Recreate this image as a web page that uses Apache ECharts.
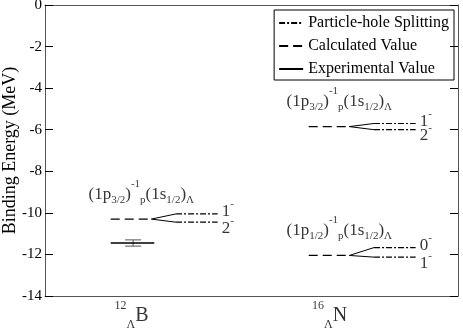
<!DOCTYPE html>
<html><head><meta charset="utf-8">
<script src="https://cdn.jsdelivr.net/npm/echarts@6/dist/echarts.min.js"></script>
<style>html,body{margin:0;padding:0;background:#fff}#c{width:463px;height:331px}</style>
</head><body><div id="c"></div>
<script>
// ---- data ----
const nucleusMass = ['12', '16'];
const nucleusSymbol = ['B', 'N'];
const nucleusPos = [1, 2];
const levelNucleus = [0, 1, 1];
const levelHole = ['3/2', '3/2', '1/2'];
const calcValues = [-10.3, -5.85, -12.05];
const splitUpper = [-10.05, -5.70, -11.67];
const splitLower = [-10.45, -6.00, -12.13];
const upperSpin = ['1', '1', '0'];
const lowerSpin = ['2', '2', '1'];
const expNucleus = [0];
const expValues = [-11.45];
const expErrors = [0.15];
const yTicks = { min: -14, max: 0, step: 2 };

// ---- layout (not data) ----
const CALC_L = -0.105, CALC_R = 0.10, SPLIT_L = 0.225, SPLIT_R = 0.435;
const FONT = 'Liberation Serif';

const calcData = [], convData = [], splitData = [], expData = [], errData = [];
const annData = [], spinUpData = [], spinLowData = [];
levelNucleus.forEach((n, i) => {
  const x = nucleusPos[n];
  calcData.push([x + CALC_L, calcValues[i]], [x + CALC_R, calcValues[i]], null);
  convData.push([x + CALC_R, calcValues[i]], [x + SPLIT_L, splitUpper[i]], null,
                [x + CALC_R, calcValues[i]], [x + SPLIT_L, splitLower[i]], null);
  splitData.push([x + SPLIT_L, splitUpper[i]], [x + SPLIT_R, splitUpper[i]], null,
                 [x + SPLIT_L, splitLower[i]], [x + SPLIT_R, splitLower[i]], null);
  annData.push({ value: [x, calcValues[i]], hole: levelHole[i] });
  spinUpData.push({ value: [x + SPLIT_R, splitUpper[i]], spin: upperSpin[i] });
  spinLowData.push({ value: [x + SPLIT_R, splitLower[i]], spin: lowerSpin[i] });
});
expNucleus.forEach((n, i) => {
  const x = nucleusPos[n];
  expData.push([x + CALC_L, expValues[i]], [x + 0.115, expValues[i]], null);
  errData.push([x + 0.008, expValues[i] - expErrors[i], expValues[i] + expErrors[i]]);
});
const nucData = nucleusPos.map((x, i) => ({ value: [x, yTicks.min], mass: nucleusMass[i], sym: nucleusSymbol[i] }));

const spinRich = {
  j: { fontFamily: FONT, fontSize: 17, lineHeight: 17, padding: [4, 0, 0, 0], color: '#000' },
  u: { fontFamily: FONT, fontSize: 11, lineHeight: 10, padding: [0, 0, 11, 0], color: '#000' }
};

const chart = echarts.init(document.getElementById('c'), null, { renderer: 'canvas' });
chart.setOption({
  animation: false,
  backgroundColor: '#fff',
  grid: { left: 45, right: 5, top: 5, bottom: 35, containLabel: false, outerBoundsMode: 'none' },
  legend: {
    right: 9, top: 10, orient: 'vertical',
    data: ['Particle-hole Splitting', 'Calculated Value', 'Experimental Value'],
    itemWidth: 24, itemHeight: 14, itemGap: 7,
    padding: [5, 5, 3, 4],
    borderColor: '#000', borderWidth: 1,
    itemStyle: { color: 'rgba(0,0,0,0)', borderColor: 'rgba(0,0,0,0)', borderWidth: 0, opacity: 0 },
    textStyle: { fontFamily: FONT, fontSize: 16, color: '#000' },
    selectedMode: false
  },
  xAxis: [
    { type: 'value', min: 0.563, max: 2.649, position: 'bottom',
      axisLine: { show: true, onZero: false, lineStyle: { color: '#555', width: 1 } },
      axisTick: { show: false }, axisLabel: { show: false }, splitLine: { show: false } },
    { type: 'value', min: 0.563, max: 2.649, position: 'top',
      axisLine: { show: true, onZero: false, lineStyle: { color: '#555', width: 1 } },
      axisTick: { show: false }, axisLabel: { show: false }, splitLine: { show: false } }
  ],
  yAxis: [
    { type: 'value', min: yTicks.min, max: yTicks.max, interval: yTicks.step, position: 'left',
      name: 'Binding Energy (MeV)', nameLocation: 'middle', nameGap: 26, nameMoveOverlap: false,
      nameTextStyle: { fontFamily: FONT, fontSize: 18, color: '#000' },
      axisLine: { show: true, onZero: false, lineStyle: { color: '#555', width: 1 } },
      axisTick: { show: true, inside: true, length: 8, lineStyle: { color: '#000' } },
      axisLabel: { fontFamily: FONT, fontSize: 15, color: '#000', margin: 3 },
      splitLine: { show: false } },
    { type: 'value', min: yTicks.min, max: yTicks.max, interval: yTicks.step, position: 'right',
      axisLine: { show: true, onZero: false, lineStyle: { color: '#555', width: 1 } },
      axisTick: { show: true, inside: true, length: 8, lineStyle: { color: '#000' } },
      axisLabel: { show: false }, splitLine: { show: false } }
  ],
  series: [
    { name: 'Particle-hole Splitting', type: 'line', data: splitData, symbol: 'none', silent: true,
      lineStyle: { color: '#000', width: 1.2, type: [6, 2, 2, 2] }, itemStyle: { color: '#000' } },
    { name: 'Calculated Value', type: 'line', data: calcData, symbol: 'none', silent: true,
      lineStyle: { color: '#000', width: 1.3, type: [9, 5] }, itemStyle: { color: '#000' } },
    { name: 'Experimental Value', type: 'line', data: expData, symbol: 'none', silent: true,
      lineStyle: { color: '#000', width: 1.6, type: 'solid' }, itemStyle: { color: '#000' } },
    { name: 'conv', type: 'line', data: convData, symbol: 'none', silent: true,
      lineStyle: { color: '#000', width: 1, type: 'solid' } },
    { name: 'err', type: 'custom', silent: true, data: errData,
      renderItem: (params, api) => {
        const x = api.value(0), lo = api.value(1), hi = api.value(2);
        const pLo = api.coord([x, lo]), pHi = api.coord([x, hi]);
        const w = 8;
        const st = { stroke: '#555', lineWidth: 1 };
        return { type: 'group', children: [
          { type: 'line', shape: { x1: pLo[0], y1: pLo[1], x2: pHi[0], y2: pHi[1] }, style: st },
          { type: 'line', shape: { x1: pLo[0] - w, y1: pLo[1], x2: pLo[0] + w, y2: pLo[1] }, style: st },
          { type: 'line', shape: { x1: pHi[0] - w, y1: pHi[1], x2: pHi[0] + w, y2: pHi[1] }, style: st }
        ] };
      } },
    { name: 'ann', type: 'scatter', data: annData, symbolSize: 0, silent: true,
      label: { show: true, position: [-43, -38],
        formatter: p => `{m|(1p}{s|${p.data.hole}}{m|)}{u|-1}{s|p}{m|(1s}{s|1/2}{m|)}{s|Λ}`,
        rich: {
          m: { fontFamily: FONT, fontSize: 17, lineHeight: 17, padding: [12, 0, 3, 0], color: '#000' },
          u: { fontFamily: FONT, fontSize: 11, lineHeight: 11, padding: [5, 0, 16, 0], color: '#000' },
          s: { fontFamily: FONT, fontSize: 11, lineHeight: 11, padding: [21, 0, 0, 0], color: '#000' }
        } } },
    { name: 'spinUp', type: 'scatter', data: spinUpData, symbolSize: 0, silent: true,
      label: { show: true, position: 'right', distance: 4, offset: [0, -4],
        formatter: p => `{j|${p.data.spin}}{u|-}`, rich: spinRich } },
    { name: 'spinLow', type: 'scatter', data: spinLowData, symbolSize: 0, silent: true,
      label: { show: true, position: 'right', distance: 4, offset: [0, 4],
        formatter: p => `{j|${p.data.spin}}{u|-}`, rich: spinRich } },
    { name: 'nuc', type: 'scatter', data: nucData, symbolSize: 0, silent: true, clip: false,
      label: { show: true, position: 'bottom', distance: 9,
        formatter: p => `{a|${p.data.mass}}{l|Λ}{b|${p.data.sym}}`,
        rich: {
          a: { fontFamily: FONT, fontSize: 12, lineHeight: 12, padding: [0, 0, 19, 0], color: '#000' },
          l: { fontFamily: FONT, fontSize: 12, lineHeight: 12, padding: [19, 0, 0, 0], color: '#000' },
          b: { fontFamily: FONT, fontSize: 20, lineHeight: 20, padding: [6, 0, 5, 0], color: '#000' }
        } } }
  ]
});
</script>
</body></html>
